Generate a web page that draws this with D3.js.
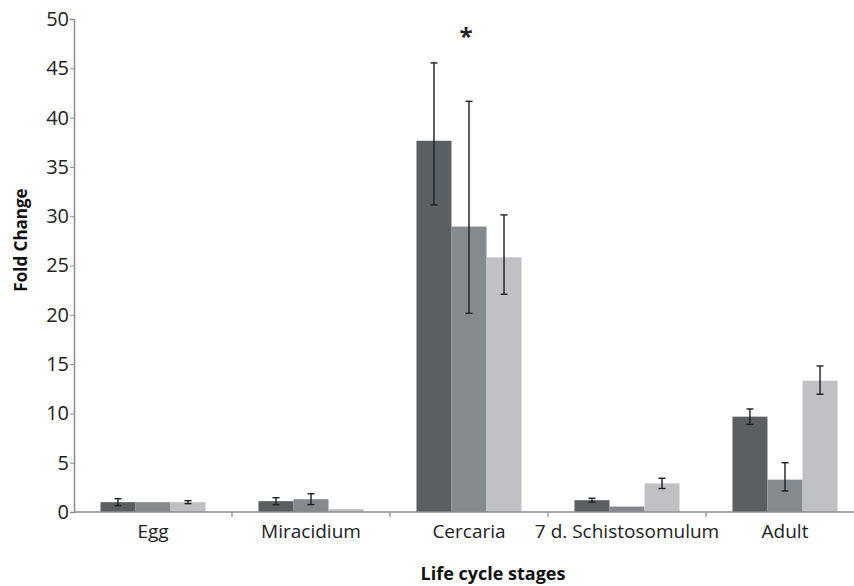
<!DOCTYPE html>
<html><head><meta charset="utf-8">
<script src="https://cdn.jsdelivr.net/npm/d3@7"></script>
<style>body{margin:0;background:#fff}svg{display:block}</style>
</head><body>
<svg id="c" width="854" height="586"></svg>
<script>
const categories = ["Egg", "Miracidium", "Cercaria", "7 d. Schistosomulum", "Adult"];
const series1 = [1.0, 1.1, 37.65, 1.2, 9.67];
const series1ErrUp = [0.35, 0.35, 7.9, 0.2, 0.78];
const series1ErrDown = [0.35, 0.35, 6.5, 0.2, 0.78];
const series2 = [1.0, 1.3, 28.95, 0.55, 3.28];
const series2ErrUp = [0, 0.55, 12.7, 0, 1.72];
const series2ErrDown = [0, 0.55, 8.8, 0, 1.15];
const series3 = [1.0, 0.3, 25.83, 2.9, 13.32];
const series3ErrUp = [0.15, 0, 4.3, 0.52, 1.49];
const series3ErrDown = [0.15, 0, 3.75, 0.52, 1.38];
const yTicks = [0, 5, 10, 15, 20, 25, 30, 35, 40, 45, 50];
const colors = ["#5a5f63", "#858a8e", "#bfc1c4"];
const seriesList = [series1, series2, series3];
const errUpList = [series1ErrUp, series2ErrUp, series3ErrUp];
const errDownList = [series1ErrDown, series2ErrDown, series3ErrDown];

const svg = d3.select("#c");
const x0 = d3.scaleBand().domain(categories).range([74, 864]).paddingInner(0.335).paddingOuter(0.1675);
const x1 = d3.scaleBand().domain([0, 1, 2]).range([0, x0.bandwidth()]);
const y = d3.scaleLinear().domain([0, 50]).range([512, 19]);
const font = "'Open Sans', sans-serif";

// bars
categories.forEach((c, i) => {
  const g = svg.append("g").attr("transform", `translate(${x0(c)},0)`);
  seriesList.forEach((s, k) => {
    g.append("rect").attr("x", x1(k)).attr("width", x1.bandwidth())
      .attr("y", y(s[i])).attr("height", y(0) - y(s[i])).attr("fill", colors[k]);
  });
  seriesList.forEach((s, k) => {
    const eu = errUpList[k][i], ed = errDownList[k][i];
    if (eu <= 0 && ed <= 0) return;
    const cx = x1(k) + x1.bandwidth() / 2;
    const eg = g.append("g").attr("stroke", "#1e1e1e").attr("stroke-width", 1.4);
    eg.append("line").attr("x1", cx).attr("x2", cx).attr("y1", y(s[i] + eu)).attr("y2", y(s[i] - ed));
    [s[i] + eu, s[i] - ed].forEach(v => eg.append("line").attr("x1", cx - 3.5).attr("x2", cx + 3.5).attr("y1", y(v)).attr("y2", y(v)));
  });
});

// y axis
const yAxis = svg.append("g").attr("transform", "translate(74,0)")
  .call(d3.axisLeft(y).tickValues(yTicks).tickSize(4).tickPadding(1).tickFormat(d3.format("d")));
yAxis.select(".domain").attr("stroke", "#8c8c8c").attr("stroke-width", 1.5);
yAxis.selectAll(".tick line").attr("stroke", "#8c8c8c");
yAxis.selectAll("text").attr("font-family", font).attr("font-size", 20).attr("fill", "#222");

// x axis
const xg = svg.append("g");
xg.append("line").attr("x1", 74).attr("x2", 864).attr("y1", y(0)).attr("y2", y(0)).attr("stroke", "#8c8c8c").attr("stroke-width", 1.5);
categories.forEach((c, i) => {
  const bx = x0(c) - x0.step() * 0.335 / 2;
  if (i > 0) xg.append("line").attr("x1", bx).attr("x2", bx).attr("y1", y(0)).attr("y2", y(0) + 5).attr("stroke", "#8c8c8c").attr("stroke-width", 1.2);
  xg.append("text").attr("x", x0(c) + x0.bandwidth() / 2).attr("y", 538).attr("text-anchor", "middle")
    .attr("font-family", font).attr("font-size", 19).attr("fill", "#222").text(c);
});

// asterisk
svg.append("text").attr("x", x0("Cercaria") + x1(1) + x1.bandwidth() / 2 - 3).attr("y", 45).attr("text-anchor", "middle")
  .attr("font-family", font).attr("font-weight", "bold").attr("font-size", 24).attr("fill", "#222").text("*");

// axis titles
svg.append("text").attr("transform", "translate(27,240) rotate(-90)").attr("text-anchor", "middle")
  .attr("font-family", font).attr("font-weight", "bold").attr("font-size", 17).attr("fill", "#111").text("Fold Change");
svg.append("text").attr("x", 493).attr("y", 580).attr("text-anchor", "middle")
  .attr("font-family", font).attr("font-weight", "bold").attr("font-size", 18).attr("fill", "#111").text("Life cycle stages");
</script>
</body></html>
